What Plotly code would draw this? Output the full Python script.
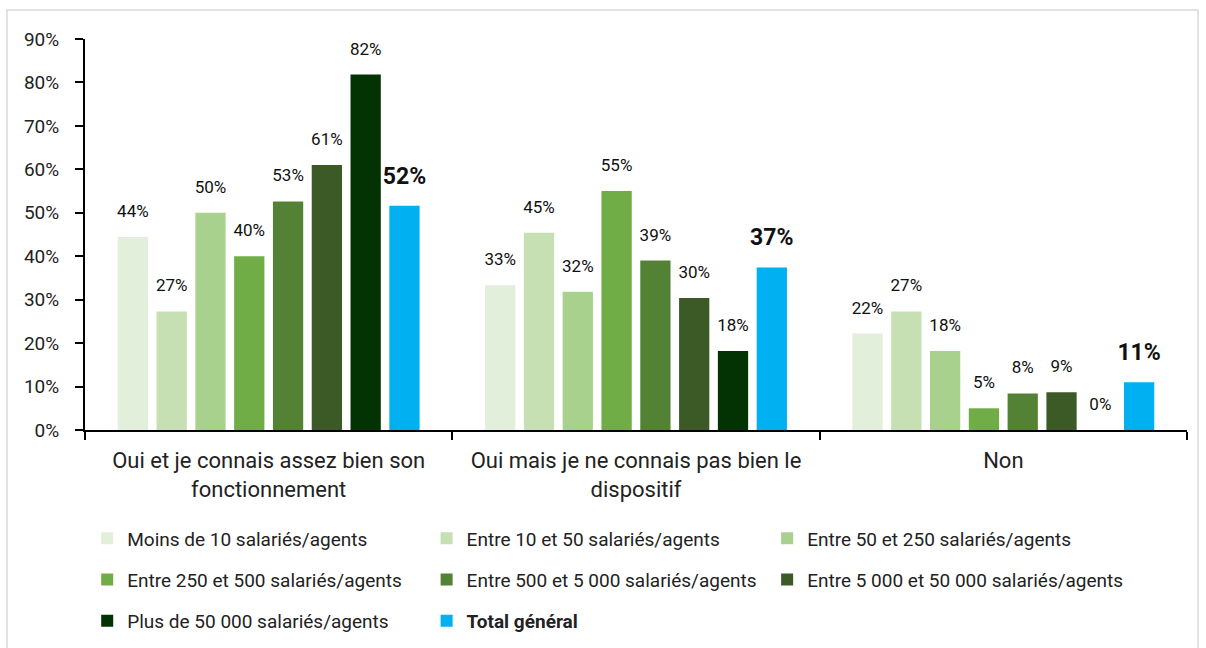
import plotly.graph_objects as go

categories = ["Oui et je connais assez bien son<br>fonctionnement",
              "Oui mais je ne connais pas bien le<br>dispositif",
              "Non"]
series_names = ["Moins de 10 salariés/agents", "Entre 10 et 50 salariés/agents",
                "Entre 50 et 250 salariés/agents", "Entre 250 et 500 salariés/agents",
                "Entre 500 et 5 000 salariés/agents", "Entre 5 000 et 50 000 salariés/agents",
                "Plus de 50 000 salariés/agents", "<b>Total général</b>"]
moins_10 = [44.4, 33.3, 22.2]
entre_10_50 = [27.3, 45.4, 27.3]
entre_50_250 = [50.0, 31.8, 18.2]
entre_250_500 = [40.0, 55.0, 5.0]
entre_500_5000 = [52.6, 39.0, 8.4]
entre_5000_50000 = [61.0, 30.4, 8.7]
plus_50000 = [81.8, 18.2, 0.0]
total = [51.6, 37.4, 11.0]
series_values = [moins_10, entre_10_50, entre_50_250, entre_250_500,
                 entre_500_5000, entre_5000_50000, plus_50000, total]
colors = ["#E2EFDA", "#C6E0B4", "#A9D18E", "#70AD47", "#548235", "#3B5A25", "#033303", "#00B0F0"]
y_ticks = [0, 10, 20, 30, 40, 50, 60, 70, 80, 90]
y_tick_labels = [f"{v}%" for v in y_ticks]

FONT = "Roboto, sans-serif"
LABEL_PAD = 3.0  # visual gap (axis units) between bar top and its value label
legend_of = ["legend", "legend2", "legend3", "legend", "legend2", "legend3", "legend", "legend2"]

fig = go.Figure()
for i, (name, vals) in enumerate(zip(series_names, series_values)):
    is_total = i == len(series_names) - 1
    fig.add_trace(go.Bar(
        x=categories, y=vals, name=name,
        marker=dict(color=colors[i], line=dict(width=0)),
        offsetgroup=str(i),
        legend=legend_of[i],
        legendgroup=f"g{i}",
    ))
    # transparent spacer carrying the value label slightly above the bar
    fig.add_trace(go.Bar(
        x=categories, y=[LABEL_PAD] * len(vals), base=vals,
        marker=dict(color="rgba(0,0,0,0)", line=dict(width=0)),
        offsetgroup=str(i), showlegend=False, hoverinfo="skip",
        text=[f"{round(v):.0f}%" for v in vals],
        textposition="outside", constraintext="none", cliponaxis=False,
        textfont=dict(size=23 if is_total else 17, color="#111", family=FONT,
                      weight="bold" if is_total else "normal"),
        legendgroup=f"g{i}",
    ))

leg_y = (430 - 519.5) / 391
leg_common = dict(orientation="v", font=dict(size=19, color="#222", family=FONT),
                  itemwidth=30, xanchor="left", yanchor="top", y=leg_y,
                  bgcolor="rgba(0,0,0,0)", traceorder="grouped", tracegroupgap=13.5)
fig.update_layout(
    width=1206, height=648,
    margin=dict(l=85, r=19, t=39, b=218, autoexpand=False),
    paper_bgcolor="white", plot_bgcolor="white",
    font=dict(family=FONT, color="#222"),
    barmode="group", bargap=0.155, bargroupgap=0.22,
    showlegend=True,
    legend=dict(x=0.002, **leg_common),
    legend2=dict(x=0.310, **leg_common),
    legend3=dict(x=0.619, **leg_common),
    yaxis=dict(range=[0, 90], tickmode="array", tickvals=y_ticks, ticktext=y_tick_labels,
               showgrid=False, zeroline=False, showline=True, linecolor="black",
               linewidth=2, ticks="outside", ticklen=8, tickwidth=1.5, tickcolor="black",
               ticklabelstandoff=12, automargin=False,
               tickfont=dict(size=19, color="#222", family=FONT)),
    xaxis=dict(showgrid=False, showline=True, linecolor="black", linewidth=2,
               ticks="outside", tickson="boundaries", ticklen=8, tickwidth=1.5,
               tickcolor="black", ticklabelstandoff=10, automargin=False,
               tickfont=dict(size=22, color="#222", family=FONT)),
)
fig.add_shape(type="rect", xref="paper", yref="paper",
              x0=(7 - 85) / 1102, x1=(1198 - 85) / 1102,
              y0=(430 - 660) / 391, y1=(430 - 10) / 391,
              line=dict(color="#D9D9D9", width=1.5), fillcolor="rgba(0,0,0,0)", layer="below")
fig.write_html("out.html", config={"displayModeBar": False},
               post_script="document.body.style.margin='0';")
